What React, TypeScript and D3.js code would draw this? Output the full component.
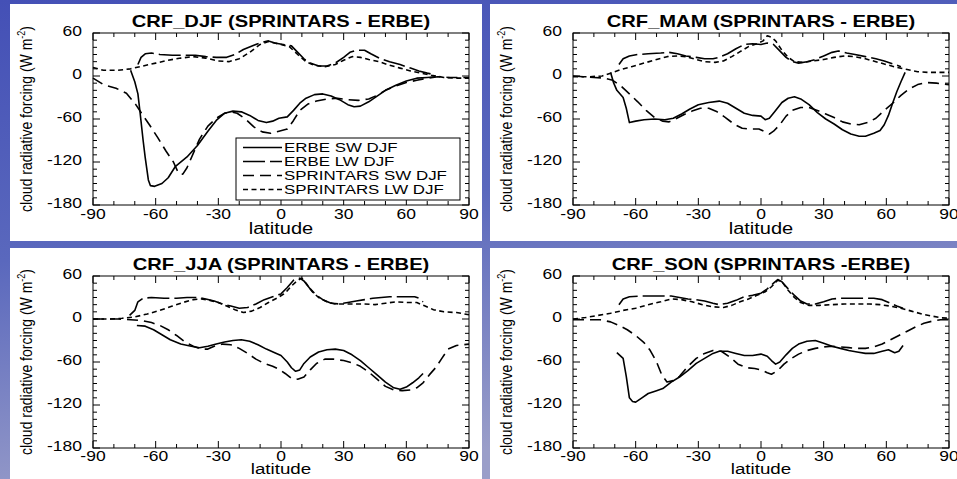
import React from 'react';
import * as d3 from 'd3';

// tick values
const latTicks = [-90, -60, -30, 0, 30, 60, 90];
const crfTicks = [60, 0, -60, -120, -180];
const latMinor = d3.range(-90, 91, 10);
const crfMinor = d3.range(-180, 61, 10);

// [latitude, W m-2]
const djfErbeSw = [[-72, 8], [-70, -8], [-68.5, -25], [-67.5, -50], [-66, -90], [-65, -114], [-63.5, -145], [-62.5, -153], [-60.5, -154], [-57, -150], [-54, -142], [-50.5, -126], [-45, -113], [-40, -97], [-35, -77], [-31, -62], [-27, -52], [-23, -49], [-19, -50], [-15, -55], [-11, -62], [-7, -65], [-4, -63], [-1, -59], [3, -57], [6, -48], [9, -38], [12, -31], [16, -26], [20, -25], [24, -28], [28, -33], [32, -40], [35, -43], [38, -42], [42, -36], [46, -28], [50, -20], [55, -13], [60, -7], [65, -3], [70, -2], [74, -1]];
const djfErbeLw = [[-68.5, 16], [-67, 26], [-65, 31], [-62, 32], [-58, 30], [-52, 29], [-46, 29], [-41, 29], [-36, 27], [-31, 26], [-26, 26], [-22, 30], [-18, 37], [-13, 43], [-9, 47], [-6, 49], [-3, 46], [1, 44], [5, 42], [8, 33], [11, 24], [14, 18], [18, 14], [22, 14], [26, 18], [30, 26], [33, 33], [36, 36], [40, 36], [43, 31], [47, 25], [52, 20], [57, 16], [62, 11], [66, 7], [70, 4], [73, 2]];
const djfSprSw = [[-90, -3], [-85, -12], [-79, -17], [-74, -24], [-69.5, -40], [-67, -51], [-63, -68], [-59, -86], [-55, -105], [-51.5, -120], [-49, -136], [-47, -137], [-45, -128], [-42, -108], [-39, -88], [-35, -70], [-31, -59], [-27, -52], [-24, -50], [-21, -52], [-17, -60], [-13, -71], [-9, -78], [-5, -80], [-1, -77], [3, -74], [6, -62], [9, -48], [13, -39], [17, -35], [22, -32], [27, -31], [32, -33], [37, -34], [42, -32], [46, -27], [50, -20], [55, -14], [60, -9], [65, -6], [70, -3], [75, -1], [80, -2], [85, -2], [90, -2]];
const djfSprLw = [[-90, 12], [-85, 8], [-78, 8], [-72, 10], [-66, 14], [-60, 18], [-54, 22], [-48, 25], [-42, 27], [-36, 25], [-30, 21], [-25, 20], [-20, 24], [-15, 33], [-10, 44], [-6, 48], [-3, 46], [0, 44], [4, 41], [8, 30], [12, 20], [16, 15], [21, 13], [26, 16], [30, 22], [34, 27], [38, 26], [42, 23], [47, 20], [52, 15], [57, 11], [62, 7], [67, 4], [72, 1], [78, -2], [84, -3], [90, -3]];

const mamErbeSw = [[-72, 5], [-70.5, -10], [-69, -20], [-66, -30], [-64.5, -45], [-63, -65], [-60, -63], [-56, -61], [-51, -60], [-46, -61], [-42, -59], [-38, -53], [-34, -46], [-30, -40], [-25, -37], [-20, -35], [-16, -38], [-12, -45], [-8, -52], [-4, -55], [0, -56], [2, -61], [4, -59], [7, -48], [10, -37], [13, -31], [16, -29], [19, -32], [23, -40], [27, -51], [31, -60], [35, -67], [39, -75], [43, -81], [47, -84], [50, -84], [54, -80], [57, -76], [59, -68], [61, -55], [63, -38], [65, -22], [67, -8], [69, 5]];
const mamErbeLw = [[-68, 16], [-66, 24], [-63, 28], [-59, 30], [-54, 31], [-48, 32], [-44, 33], [-40, 31], [-36, 28], [-31, 26], [-27, 24], [-23, 24], [-20, 26], [-16, 31], [-12, 38], [-8, 44], [-4, 45], [0, 44], [3, 46], [6, 44], [9, 35], [12, 26], [15, 20], [18, 18], [22, 20], [26, 23], [30, 28], [34, 33], [37, 35], [41, 32], [45, 30], [50, 27], [55, 24], [59, 21], [63, 17], [67, 13]];
const mamSprSw = [[-90, 0], [-85, -1], [-80, -2], [-75, -3], [-71, -6], [-67, -14], [-63, -25], [-59, -36], [-55, -48], [-51, -58], [-47, -63], [-44, -64], [-41, -60], [-37, -54], [-33, -49], [-29, -45], [-25, -45], [-21, -50], [-17, -58], [-13, -67], [-9, -73], [-5, -74], [-1, -74], [2, -78], [4, -81], [6, -77], [9, -68], [12, -56], [15, -48], [19, -44], [23, -44], [27, -48], [31, -53], [35, -58], [39, -64], [43, -67], [47, -68], [51, -65], [55, -59], [59, -48], [63, -38], [67, -27], [71, -18], [75, -12], [79, -9], [84, -10], [90, -12]];
const mamSprLw = [[-90, -1], [-82, -1], [-76, 0], [-72, 4], [-67, 9], [-62, 13], [-56, 18], [-50, 23], [-45, 27], [-40, 28], [-36, 27], [-31, 23], [-27, 20], [-22, 19], [-18, 21], [-14, 27], [-10, 34], [-6, 41], [-2, 45], [1, 49], [3, 56], [5, 54], [7, 49], [10, 36], [13, 26], [16, 20], [20, 19], [25, 21], [30, 23], [35, 26], [40, 28], [45, 27], [50, 24], [55, 20], [60, 16], [65, 12], [70, 9], [75, 6], [80, 5], [85, 5], [90, 5]];

const jjaErbeSw = [[-69, -9], [-65, -10], [-61, -15], [-57, -22], [-53, -29], [-48, -35], [-43, -38], [-39, -40], [-35, -38], [-31, -35], [-27, -32], [-23, -30], [-19, -29], [-15, -31], [-11, -36], [-7, -42], [-3, -47], [0, -51], [3, -60], [5, -68], [7, -73], [9, -71], [11, -62], [14, -53], [18, -46], [22, -43], [26, -42], [30, -44], [34, -50], [38, -58], [42, -68], [46, -78], [50, -88], [54, -96], [57, -98], [60, -95], [63, -89], [66, -82], [68, -76]];
const jjaErbeLw = [[-72.5, 5], [-70, 12], [-68.5, 24], [-66, 29], [-62, 30], [-56, 29], [-50, 29], [-45, 30], [-40, 30], [-36, 28], [-32, 25], [-28, 21], [-24, 18], [-20, 15], [-16, 16], [-12, 21], [-8, 27], [-4, 31], [0, 35], [3, 44], [6, 54], [9, 57], [11, 53], [14, 42], [17, 33], [20, 27], [24, 22], [28, 21], [32, 23], [36, 25], [40, 27], [44, 29], [48, 30], [52, 31], [56, 31], [60, 31], [64, 31], [66, 29], [68, 24]];
const jjaSprSw = [[-90, 0], [-84, 0], [-78, 0], [-72, -1], [-67, -2], [-62, -5], [-58, -9], [-54, -15], [-50, -23], [-46, -32], [-42, -38], [-38, -42], [-35, -42], [-32, -38], [-28, -35], [-24, -36], [-20, -41], [-16, -48], [-12, -56], [-8, -62], [-4, -66], [-1, -70], [2, -76], [5, -83], [8, -84], [11, -81], [14, -71], [17, -62], [21, -56], [25, -56], [30, -58], [34, -61], [38, -66], [42, -74], [46, -84], [50, -94], [54, -99], [58, -100], [62, -99], [65, -96], [68, -89], [71, -78], [74, -68], [77, -55], [80, -42], [84, -37], [90, -35]];
const jjaSprLw = [[-90, 0], [-82, 0], [-76, 1], [-70, 3], [-64, 7], [-58, 12], [-52, 18], [-47, 23], [-42, 27], [-38, 28], [-34, 26], [-30, 23], [-26, 18], [-22, 13], [-18, 9], [-14, 11], [-10, 16], [-6, 23], [-2, 29], [2, 36], [5, 46], [8, 54], [10, 57], [12, 50], [15, 38], [18, 30], [22, 24], [26, 21], [30, 21], [35, 21], [40, 21], [45, 20], [50, 22], [55, 24], [60, 23], [65, 23], [69, 18], [73, 13], [78, 10], [84, 9], [90, 6]];

const sonErbeSw = [[-69, -47], [-66, -55], [-64.5, -80], [-63, -110], [-61.5, -115], [-60, -116], [-57, -110], [-54, -104], [-50, -100], [-47, -97], [-43, -88], [-39, -81], [-35, -72], [-31, -62], [-27, -55], [-23, -48], [-20, -45], [-16, -45], [-12, -48], [-8, -51], [-4, -51], [0, -49], [3, -52], [5, -58], [7, -63], [9, -60], [12, -50], [15, -41], [18, -35], [22, -31], [26, -30], [30, -34], [34, -38], [38, -41], [42, -44], [46, -46], [50, -48], [54, -48], [58, -45], [61, -43], [64, -47], [66, -45], [68, -37]];
const sonErbeLw = [[-68, 20], [-66, 28], [-63, 31], [-58, 32], [-52, 32], [-47, 32], [-43, 32], [-39, 30], [-35, 28], [-31, 27], [-27, 25], [-23, 22], [-20, 20], [-16, 22], [-12, 26], [-8, 31], [-4, 33], [0, 36], [3, 42], [6, 50], [8, 55], [10, 52], [13, 42], [16, 33], [19, 25], [22, 21], [26, 21], [30, 24], [34, 28], [38, 29], [42, 29], [46, 29], [50, 29], [54, 29], [58, 27], [62, 22], [65, 18], [68, 15]];
const sonSprSw = [[-90, -1], [-83, -1], [-77, -1], [-72, -4], [-68, -9], [-64, -15], [-60, -23], [-56, -33], [-53, -44], [-50, -60], [-47.5, -78], [-45, -88], [-42, -86], [-39, -80], [-35, -66], [-31, -55], [-27, -48], [-23, -44], [-19, -45], [-15, -53], [-11, -63], [-7, -68], [-3, -69], [0, -71], [3, -75], [5, -77], [8, -72], [11, -63], [14, -56], [18, -49], [22, -44], [26, -41], [30, -39], [34, -38], [38, -39], [42, -40], [46, -41], [50, -41], [54, -39], [58, -35], [62, -29], [66, -23], [70, -17], [74, -11], [78, -6], [82, -3], [86, -1], [90, -1]];
const sonSprLw = [[-90, 0], [-84, 2], [-78, 5], [-72, 8], [-66, 12], [-60, 15], [-54, 20], [-48, 24], [-43, 28], [-38, 27], [-33, 24], [-28, 20], [-23, 17], [-18, 16], [-14, 19], [-10, 24], [-6, 28], [-2, 33], [2, 38], [5, 45], [8, 54], [10, 52], [13, 40], [16, 30], [19, 23], [23, 19], [28, 19], [34, 20], [40, 21], [46, 21], [52, 21], [57, 20], [62, 18], [67, 15], [72, 11], [77, 7], [82, 4], [86, 2], [90, 1]];

const legendLabels = ['ERBE SW DJF', 'ERBE LW DJF', 'SPRINTARS SW DJF', 'SPRINTARS LW DJF'];
const dashes = ['none', '22,5', '11,6', '5,3.5'];

const FONT = '"Liberation Sans", Arial, sans-serif';

const panels = [
  { title: 'CRF_DJF (SPRINTARS - ERBE)', series: [djfErbeSw, djfErbeLw, djfSprSw, djfSprLw], px: 10, row: 0, legend: true },
  { title: 'CRF_MAM (SPRINTARS - ERBE)', series: [mamErbeSw, mamErbeLw, mamSprSw, mamSprLw], px: 490, row: 0 },
  { title: 'CRF_JJA (SPRINTARS - ERBE)', series: [jjaErbeSw, jjaErbeLw, jjaSprSw, jjaSprLw], px: 10, row: 1 },
  { title: 'CRF_SON (SPRINTARS -ERBE)', series: [sonErbeSw, sonErbeLw, sonSprSw, sonSprLw], px: 490, row: 1 },
];

const rows = [
  { top: 4, bottom: 241, title: 27, f0: 33, f1: 205, tick: 219, lab: 234, labSize: 16 },
  { top: 248, bottom: 479, title: 270, f0: 276, f1: 448, tick: 461, lab: 474, labSize: 15 },
];

function SText({ x, y, sx = 1.25, anchor = 'middle', size = 14, weight = 'normal', children }: any) {
  return (
    <text transform={`translate(${x},${y}) scale(${sx},1)`} textAnchor={anchor}
      fontSize={size} fontWeight={weight} fontFamily={FONT} fill="#000">{children}</text>
  );
}

function Panel({ p }: any) {
  const r = rows[p.row];
  const left = p.px + 83;
  const right = p.px + 459;
  const x = d3.scaleLinear().domain([-90, 90]).range([left, right]);
  const y = d3.scaleLinear().domain([-180, 60]).range([r.f1, r.f0]);
  const line = d3.line<number[]>().x(d => x(d[0])).y(d => y(d[1]));
  const ticks: any[] = [];
  latMinor.forEach(v => {
    const len = v % 30 === 0 ? 7 : 4;
    ticks.push(<line key={'b' + v} x1={x(v)} x2={x(v)} y1={r.f1} y2={r.f1 - len} />);
    ticks.push(<line key={'t' + v} x1={x(v)} x2={x(v)} y1={r.f0} y2={r.f0 + len} />);
  });
  crfMinor.forEach(v => {
    const len = v % 60 === 0 ? 7 : 4;
    ticks.push(<line key={'l' + v} x1={left} x2={left + len} y1={y(v)} y2={y(v)} />);
    ticks.push(<line key={'r' + v} x1={right} x2={right - len} y1={y(v)} y2={y(v)} />);
  });
  const cy = (r.f0 + r.f1) / 2;
  const lx0 = 236, ly0 = 138;
  return (
    <g>
      <rect x={p.px} y={r.top} width={472} height={r.bottom - r.top} fill="#fff" />
      <SText x={(left + right) / 2} y={r.title} size={16} sx={1.26} weight="bold">{p.title}</SText>
      <rect x={left} y={r.f0} width={right - left} height={r.f1 - r.f0} fill="none" stroke="#000" strokeWidth={1} />
      <g stroke="#000" strokeWidth={1}>{ticks}</g>
      {crfTicks.map(v => (
        <SText key={v} x={left - 11} y={y(v) + 3} anchor="end">{String(v)}</SText>
      ))}
      {latTicks.map(v => (
        <SText key={v} x={x(v)} y={r.tick}>{String(v)}</SText>
      ))}
      <SText x={(left + right) / 2} y={r.lab} size={r.labSize} sx={1.25}>latitude</SText>
      <text transform={`translate(${p.px + 22},${cy}) rotate(-90) scale(1,1.2)`} textAnchor="middle"
        fontSize={14} fontFamily={FONT} fill="#000">
        cloud radiative forcing (W m<tspan fontSize={9} dy={-6}>-2</tspan><tspan dy={6}>)</tspan>
      </text>
      {p.series.map((s: number[][], i: number) => (
        <path key={i} d={line(s) || ''} fill="none" stroke="#000" strokeWidth={1.6}
          strokeDasharray={dashes[i]} strokeLinejoin="round" />
      ))}
      {p.legend && (
        <g>
          <rect x={lx0} y={ly0} width={224} height={62} fill="#fff" stroke="#000" strokeWidth={1} />
          {legendLabels.map((l, i) => {
            const ly = ly0 + 9.5 + i * 14;
            return (
              <g key={l}>
                <line x1={lx0 + 7} x2={lx0 + 46} y1={ly} y2={ly} stroke="#000" strokeWidth={1.6} strokeDasharray={dashes[i]} />
                <SText x={lx0 + 48} y={ly + 4.7} anchor="start" size={13} sx={1.3}>{l}</SText>
              </g>
            );
          })}
        </g>
      )}
    </g>
  );
}

export default function App() {
  return (
    <div>
      <style>{'body{margin:0}'}</style>
      <svg width={957} height={479} style={{ position: 'absolute', left: 0, top: 0, display: 'block' }}>
        <defs>
          <linearGradient id="bg" x1="0" y1="0" x2="0.3" y2="1">
            <stop offset="0" stopColor="#4450b6" />
            <stop offset="0.5" stopColor="#5a68bd" />
            <stop offset="1" stopColor="#9a9ec9" />
          </linearGradient>
        </defs>
        <rect width={957} height={479} fill="url(#bg)" />
        {panels.map(p => <Panel key={p.title} p={p} />)}
      </svg>
    </div>
  );
}
